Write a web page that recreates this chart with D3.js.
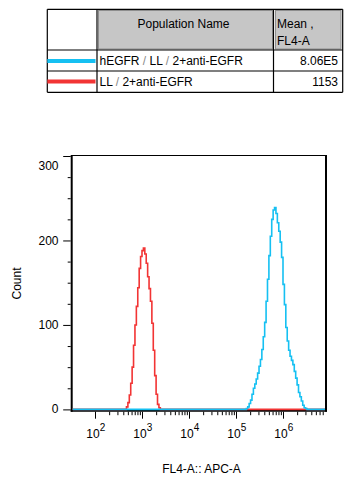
<!DOCTYPE html>
<html>
    <head>
        <style>
            body { margin: 0; background: white; }
            svg { display: block; font-family: "Liberation Sans", Arial, sans-serif; }
            .axis path { display: none; }
            .axis line { stroke: black; stroke-width: 1px; }
            .hist { fill: none; stroke-width: 1.6px; }
        </style>
        <script src="https://cdnjs.cloudflare.com/ajax/libs/d3/7.8.5/d3.min.js"></script>
    </head>
    <body>
        <script>
        var width = 351;
        var height = 484;

        // table contents
        var headers = ["Population Name", "Mean ,", "FL4-A"];
        var populations = ["hEGFR / LL / 2+anti-EGFR", "LL / 2+anti-EGFR"];
        var means = ["8.06E5", "1153"];
        var seriesColors = ["#15c0f2", "#f23434"];

        // axes
        var yMajor = [0, 100, 200, 300];
        var yMinor = [25, 50, 75, 125, 150, 175, 225, 250, 275];
        var xDecades = [2, 3, 4, 5, 6];
        var xMinorMult = [2, 3, 4, 5, 6, 7, 8, 9];

        // histogram bins, width in decades, start = log10 of first bin edge
        var binWidth = 0.03;
        var redStart = 2.67;
        var redCounts = [3, 8, 17, 31, 50, 76, 100, 122, 144, 167, 181, 188,
                         191, 184, 173, 157, 143, 128, 102, 70, 40, 18, 6, 2];
        var blueStart = 5.22;
        var blueCounts = [1, 3, 7, 11, 18, 25, 30, 36, 43, 51, 59, 71, 86, 103,
                          128, 154, 182, 205, 225, 236, 239, 232, 221, 211, 198,
                          180, 148, 124, 97, 81, 70, 63, 58, 53, 45, 37, 29, 20,
                          15, 10, 5, 2, 1];

        var svg = d3.select("body")
                    .append("svg")
                    .attr("width", width)
                    .attr("height", height);

        drawTable();

        var plotLeft = 71.7, plotRight = 326, plotTop = 155.5, plotBottom = 410.7;

        var x = d3.scaleLog().domain([1e2, 1e6]).range([95, 283]);
        var y = d3.scaleLinear().domain([0, 300]).range([409.4, 156]);

        var xMin = x.invert(plotLeft + 1), xMax = x.invert(plotRight - 1);

        var xMinorTicks = [];
        xDecades.forEach(d => xMinorMult.forEach(m => {
            var v = m * Math.pow(10, d);
            if (v < xMax) xMinorTicks.push(v);
        }));

        // axes ticks
        svg.append("g").attr("class", "axis")
            .attr("transform", "translate(0," + (plotBottom + 1) + ")")
            .call(d3.axisBottom(x).tickValues(xMinorTicks).tickSize(3.5).tickFormat(""));
        svg.append("g").attr("class", "axis")
            .attr("transform", "translate(0," + (plotBottom + 1) + ")")
            .call(d3.axisBottom(x).tickValues(xDecades.map(d => Math.pow(10, d))).tickSize(7).tickFormat(""));
        svg.append("g").attr("class", "axis")
            .attr("transform", "translate(" + (plotLeft - 1) + ",0)")
            .call(d3.axisLeft(y).tickValues(yMinor).tickSize(3).tickFormat(""));
        svg.append("g").attr("class", "axis")
            .attr("transform", "translate(" + (plotLeft - 1) + ",0)")
            .call(d3.axisLeft(y).tickValues(yMajor).tickSize(7.5).tickFormat(""));

        // y labels, kept inside the axis range
        svg.append("g").selectAll("text")
            .data(yMajor)
            .enter()
            .append("text")
            .attr("x", 58.5)
            .attr("y", d => Math.min(Math.max(y(d), 165.5), 408.3) + 4.3)
            .attr("text-anchor", "end")
            .attr("font-size", "12px")
            .text(d => d);

        // x labels 10^n
        var xl = svg.append("g").selectAll("text")
            .data(xDecades)
            .enter()
            .append("text")
            .attr("x", d => x(Math.pow(10, d)) + 0.8)
            .attr("y", 437.6)
            .attr("text-anchor", "middle")
            .attr("font-size", "12px");
        xl.append("tspan").text("10");
        xl.append("tspan").attr("font-size", "10px").attr("dy", -6.5).text(d => d);

        svg.append("text")
            .attr("transform", "translate(20.5,283.5) rotate(-90)")
            .attr("text-anchor", "middle")
            .attr("font-size", "12px")
            .text("Count");

        svg.append("text")
            .attr("x", 201.5)
            .attr("y", 473)
            .attr("text-anchor", "middle")
            .attr("font-size", "12px")
            .text("FL4-A:: APC-A");

        // frame
        svg.append("line").attr("x1", plotLeft).attr("x2", plotLeft).attr("y1", plotTop - 0.5).attr("y2", plotBottom + 1)
            .attr("stroke", "black").attr("stroke-width", 2);
        svg.append("line").attr("x1", plotLeft - 1).attr("x2", plotRight + 1).attr("y1", plotBottom).attr("y2", plotBottom)
            .attr("stroke", "black").attr("stroke-width", 2);
        svg.append("line").attr("x1", plotRight).attr("x2", plotRight).attr("y1", plotTop - 0.5).attr("y2", plotBottom + 1)
            .attr("stroke", "black").attr("stroke-width", 2);
        svg.append("line").attr("x1", plotLeft).attr("x2", plotRight).attr("y1", plotTop).attr("y2", plotTop)
            .attr("stroke", "black").attr("stroke-width", 1);

        // histograms, red under blue
        drawHist(redStart, redCounts, seriesColors[1]);
        drawHist(blueStart, blueCounts, seriesColors[0]);

        function drawHist(start, counts, color) {
            var pts = [[xMin, 0]];
            counts.forEach((c, i) => pts.push([Math.pow(10, start + i * binWidth), c]));
            pts.push([Math.pow(10, start + counts.length * binWidth), 0]);
            pts.push([xMax, 0]);

            var line = d3.line()
                .x(d => x(d[0]))
                .y(d => y(d[1]))
                .curve(d3.curveStepAfter);

            svg.append("path")
                .datum(pts)
                .attr("class", "hist")
                .attr("stroke", color)
                .attr("d", line);
        }

        function drawTable() {
            var t = svg.append("g").attr("class", "table");
            var tl = 47.3, tr = 342.7, tt = 9.3, tb = 92.3;
            var c1 = 97, c2 = 273.5;
            var r1 = 50, r2 = 71;

            // header cells
            t.append("rect").attr("x", 98.5).attr("y", 10.5).attr("width", 174).attr("height", 38.5)
                .attr("fill", "#c6c6c6").attr("stroke", "#8e8e8e");
            t.append("rect").attr("x", 275.5).attr("y", 10.5).attr("width", 65.5).attr("height", 38.5)
                .attr("fill", "#c6c6c6").attr("stroke", "#8e8e8e");

            // grid lines
            var lines = [
                [tl, tt, tr, tt], [tl, tb, tr, tb], [tl, tt, tl, tb], [tr, tt, tr, tb],
                [c1, tt, c1, tb], [c2, tt, c2, tb], [tl, r1, tr, r1], [tl, r2, tr, r2]
            ];
            t.selectAll("line.grid")
                .data(lines)
                .enter()
                .append("line")
                .attr("x1", d => d[0]).attr("y1", d => d[1])
                .attr("x2", d => d[2]).attr("y2", d => d[3])
                .attr("stroke", "black")
                .attr("stroke-width", 1.2);

            // legend swatches
            t.selectAll("line.swatch")
                .data(seriesColors)
                .enter()
                .append("line")
                .attr("x1", tl).attr("x2", c1 - 1.5)
                .attr("y1", (d, i) => 61 + i * 20.5).attr("y2", (d, i) => 61 + i * 20.5)
                .attr("stroke", d => d)
                .attr("stroke-width", 4);

            t.append("text").attr("x", 183.5).attr("y", 27.6).attr("text-anchor", "middle")
                .attr("font-size", "12px").text(headers[0]);
            t.append("text").attr("x", 277).attr("y", 27.6)
                .attr("font-size", "12px").text(headers[1]);
            t.append("text").attr("x", 277).attr("y", 45)
                .attr("font-size", "12px").text(headers[2]);

            populations.forEach(function (p, i) {
                var txt = t.append("text")
                    .attr("x", 99.5)
                    .attr("y", 65 + i * 20.5)
                    .attr("font-size", "12px");
                p.split(" / ").forEach(function (part, j) {
                    if (j > 0) txt.append("tspan").attr("fill", "#8a8a8a").text(" / ");
                    txt.append("tspan").text(part);
                });
                t.append("text")
                    .attr("x", 338)
                    .attr("y", 65 + i * 20.5)
                    .attr("text-anchor", "end")
                    .attr("font-size", "12px")
                    .text(means[i]);
            });
        }
        </script>
    </body>
</html>
